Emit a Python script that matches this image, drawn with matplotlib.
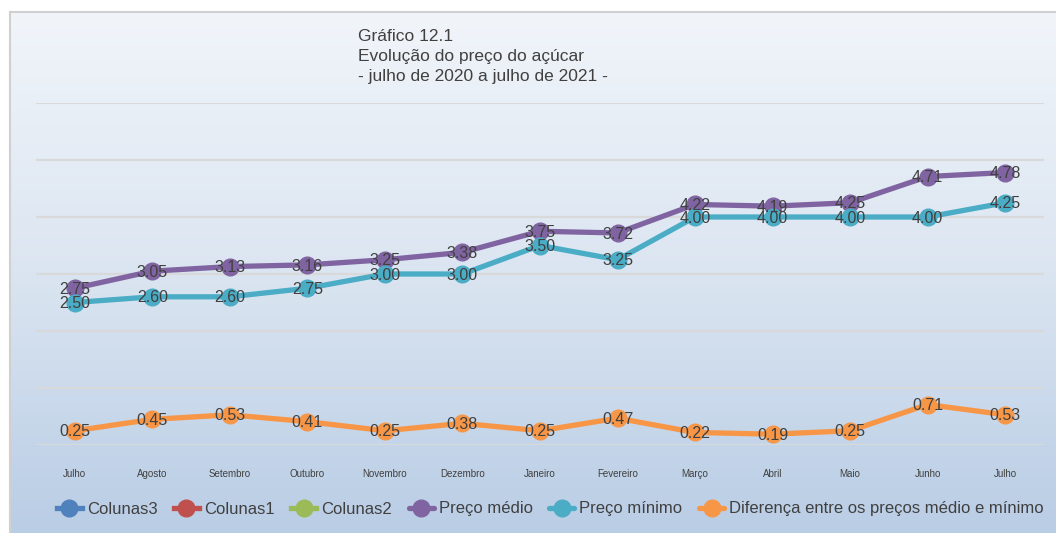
import numpy as np
import matplotlib.pyplot as plt
from matplotlib.colors import LinearSegmentedColormap

plt.rcParams["font.family"] = ["Liberation Sans", "DejaVu Sans"]

# ── Data ──────────────────────────────────────────────────────────
meses = ["Julho", "Agosto", "Setembro", "Outubro", "Novembro", "Dezembro",
         "Janeiro", "Fevereiro", "Março", "Abril", "Maio", "Junho", "Julho"]
preco_medio = [2.75, 3.05, 3.13, 3.16, 3.25, 3.38, 3.75, 3.72, 4.22, 4.19, 4.25, 4.71, 4.78]
preco_minimo = [2.50, 2.60, 2.60, 2.75, 3.00, 3.00, 3.50, 3.25, 4.00, 4.00, 4.00, 4.00, 4.25]
diferenca = [0.25, 0.45, 0.53, 0.41, 0.25, 0.38, 0.25, 0.47, 0.22, 0.19, 0.25, 0.71, 0.53]

TXT = "#404040"
W, H = 1056, 533

fig = plt.figure(figsize=(W / 100, H / 100), dpi=100)
fig.patch.set_facecolor("white")

# ── Background gradient panel ─────────────────────────────────────
bg = fig.add_axes([10 / W, 0, 1 - 10 / W, 1 - 12 / H])
grad = LinearSegmentedColormap.from_list("bg", ["#f1f5fa", "#dbe5f1", "#b9cde5"])
bg.imshow(np.linspace(0, 1, 256).reshape(-1, 1), aspect="auto", cmap=grad,
          extent=[0, 1, 0, 1], origin="upper")
bg.set_xlim(0, 1)
bg.set_ylim(0, 1)
for s in ["right", "bottom"]:
    bg.spines[s].set_visible(False)
for s in ["left", "top"]:
    bg.spines[s].set_color("#d0d0d0")
    bg.spines[s].set_linewidth(1.5)
bg.set_xticks([])
bg.set_yticks([])
bg.set_zorder(0)

# ── Main axes ─────────────────────────────────────────────────────
ax = fig.add_axes([36 / W, (H - 445) / H, (1044 - 36) / W, (445 - 103) / H])
ax.set_facecolor("none")
ax.set_zorder(1)
x = np.arange(len(meses))

series = [
    (preco_medio, "#8064a2", "Preço médio"),
    (preco_minimo, "#4bacc6", "Preço mínimo"),
    (diferenca, "#f79646", "Diferença entre os preços médio e mínimo"),
]

# legend-only series (no values)
for c, lab in [("#4f81bd", "Colunas3"), ("#c0504d", "Colunas1"), ("#9bbb59", "Colunas2")]:
    ax.plot([], [], color=c, lw=3.8, marker="o", ms=12, label=lab)

for vals, c, lab in series:
    ax.plot(x, vals, color=c, lw=3.8, marker="o", ms=12, label=lab,
            solid_capstyle="round", solid_joinstyle="round")
    for xi, v in zip(x, vals):
        ax.text(xi, v - 0.02, f"{v:.2f}", ha="center", va="center", fontsize=11.5,
                color=TXT, zorder=5)

ax.set_xlim(-0.5, len(meses) - 0.5)
ax.set_ylim(0, 6)
ax.set_yticks(np.arange(0, 7, 1))
ax.grid(True, axis="y", color="#d9d9d9", linewidth=1.5)
ax.set_axisbelow(True)
ax.tick_params(axis="y", left=False, labelleft=False)
ax.tick_params(axis="x", bottom=False, pad=14)
ax.set_xticks(x)
ax.set_xticklabels(meses, fontsize=7, color=TXT)
for s in ax.spines.values():
    s.set_visible(False)

# ── Title ─────────────────────────────────────────────────────────
fig.text(358 / W, 1 - 29 / H,
         "Gráfico 12.1\nEvolução do preço do açúcar\n- julho de 2020 a julho de 2021 -",
         ha="left", va="top", fontsize=12.5, color=TXT, linespacing=1.4)

# ── Legend ────────────────────────────────────────────────────────
fig.legend(loc="center", bbox_to_anchor=(0.521, 1 - 509 / H), ncol=6,
           frameon=False, fontsize=12, labelcolor=TXT, handlelength=1.5,
           handletextpad=0.3, columnspacing=1.0)

fig.savefig("out.png", dpi=100)
